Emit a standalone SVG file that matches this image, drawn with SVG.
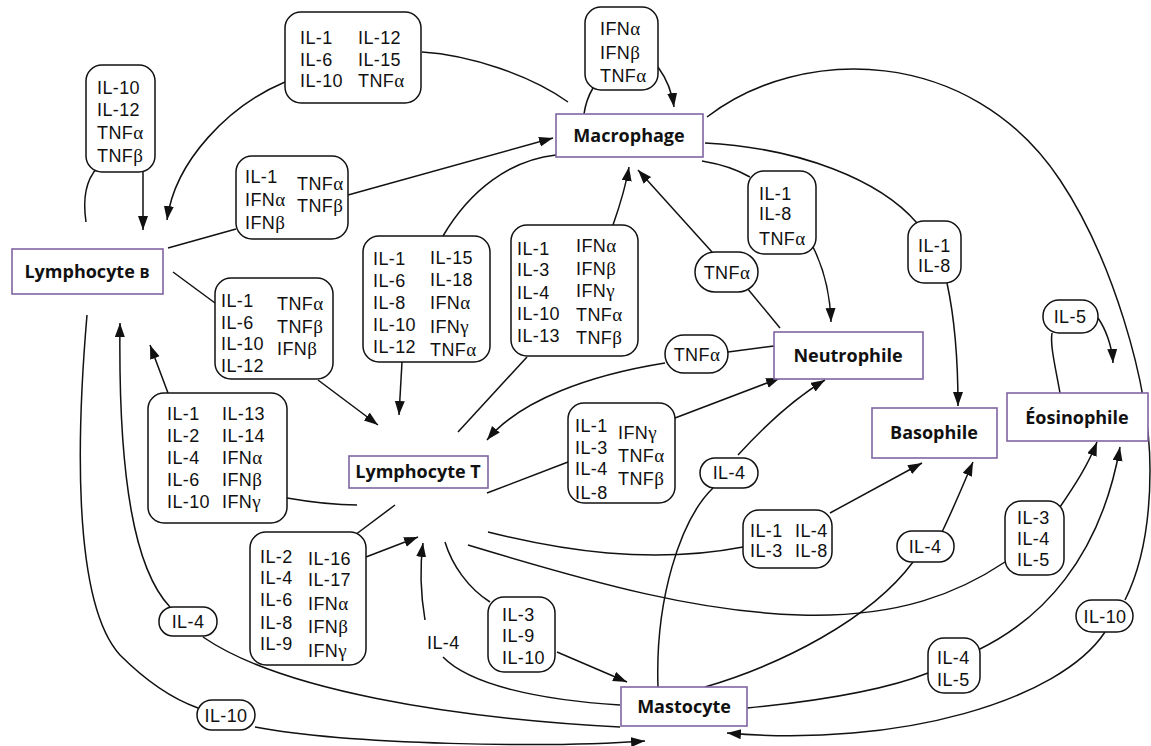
<svg xmlns="http://www.w3.org/2000/svg" width="1151" height="746" viewBox="0 0 1151 746">
<defs>
<marker id="ah" markerUnits="userSpaceOnUse" markerWidth="16" markerHeight="12" refX="14" refY="5" orient="auto">
<path d="M0,0 L14,5 L0,10 z" fill="#111"/>
</marker>
<style>
.n rect{fill:#fff;stroke:#8064a2;stroke-width:1.6}
.nt{font-family:"Open Sans","Liberation Sans",sans-serif;font-weight:bold;font-size:18px;text-anchor:middle;fill:#111}
.b rect{fill:#fff;stroke:#111;stroke-width:1.5}
.t{font-family:"Liberation Sans",Arial,sans-serif;font-size:18px;fill:#111;letter-spacing:0.4px}
.m{text-anchor:middle}
.g{font-family:"Liberation Serif","DejaVu Serif",serif;font-size:19px}
.c path{fill:none;stroke:#111;stroke-width:1.5}
.c path.a{marker-end:url(#ah)}
</style>
</defs>
<rect width="1151" height="746" fill="#fff"/>

<g class="c" id="connectors">
<path d="M86,222 C82,195 88,178 97,168"/>
<path class="a" d="M143,171 L143,230"/>
<path d="M568,102 C530,75 470,55 422,52"/>
<path class="a" d="M285,82 C230,105 175,160 167,220"/>
<path d="M168,248 L236,229"/>
<path class="a" d="M348,195 L553,138"/>
<path d="M173,272 L215,303"/>
<path class="a" d="M318,380 L378,425"/>
<path d="M357,505 C335,505 310,502 287,498"/>
<path class="a" d="M168,393 L150,345"/>
<path d="M87,315 C78,420 70,600 120,655 C145,680 170,698 198,708"/>
<path class="a" d="M255,727 C350,745 550,748 645,741"/>
<path d="M620,727 C450,718 280,690 203,637"/>
<path class="a" d="M170,607 C135,570 118,480 120,323"/>
<path d="M556,155 C510,160 470,190 443,236"/>
<path class="a" d="M402,362 L399,415"/>
<path d="M458,432 L527,357"/>
<path class="a" d="M613,225 C620,205 626,185 629,167"/>
<path d="M774,346 L728,352"/>
<path class="a" d="M665,363 C590,375 520,400 487,440"/>
<path d="M487,493 L568,462"/>
<path class="a" d="M675,418 L780,378"/>
<path d="M395,505 L355,535"/>
<path class="a" d="M366,557 L418,537"/>
<path d="M620,705 C540,700 470,685 443,657"/>
<path class="a" d="M425,620 C420,590 420,565 423,543"/>
<path d="M445,542 C452,565 468,588 490,602"/>
<path class="a" d="M557,652 L627,682"/>
<path d="M488,532 C560,550 650,565 743,547"/>
<path class="a" d="M830,513 L922,463"/>
<path d="M468,545 C600,585 700,612 800,615 C900,618 960,592 1005,562"/>
<path class="a" d="M1060,507 C1075,485 1088,465 1097,442"/>
<path d="M584,114 C586,100 590,93 593,88"/>
<path class="a" d="M658,67 C666,78 672,92 674,107"/>
<path d="M780,328 L747,288"/>
<path class="a" d="M712,252 L638,170"/>
<path d="M702,161 C720,164 738,170 750,177"/>
<path class="a" d="M813,247 C822,265 830,290 831,322"/>
<path d="M705,143 C800,148 880,180 917,223"/>
<path class="a" d="M947,283 C955,320 958,360 958,406"/>
<path d="M707,117 C800,45 970,45 1060,180 C1110,255 1150,380 1150,470 C1150,540 1135,580 1125,600"/>
<path class="a" d="M1105,632 C1060,700 900,748 727,733"/>
<path d="M658,687 C655,600 680,520 713,488"/>
<path class="a" d="M738,455 C770,420 800,395 825,380"/>
<path d="M705,687 C780,665 870,620 913,562"/>
<path class="a" d="M942,532 C955,505 965,480 973,462"/>
<path d="M747,708 C830,700 890,688 928,673"/>
<path class="a" d="M978,650 C1040,620 1100,560 1120,447"/>
<path d="M1060,393 C1055,365 1050,345 1052,333"/>
<path class="a" d="M1098,318 C1105,328 1112,345 1113,363"/>
</g>

<g class="n" id="lymphocyte-b"><rect x="12" y="249" width="151" height="45"/><text class="nt" x="87" y="278">Lymphocyte <tspan font-size="15">B</tspan></text></g>
<g class="n" id="macrophage"><rect x="556" y="114" width="147" height="43"/><text class="nt" x="629" y="142">Macrophage</text></g>
<g class="n" id="neutrophile"><rect x="774" y="332" width="149" height="47"/><text class="nt" x="848" y="362">Neutrophile</text></g>
<g class="n" id="basophile"><rect x="872" y="408" width="125" height="50"/><text class="nt" x="934" y="439">Basophile</text></g>
<g class="n" id="eosinophile"><rect x="1007" y="393" width="141" height="48"/><text class="nt" x="1077" y="424">Éosinophile</text></g>
<g class="n" id="lymphocyte-t"><rect x="349" y="456" width="139" height="32"/><text class="nt" x="418" y="478" font-size="15">Lymphocyte T</text></g>
<g class="n" id="mastocyte"><rect x="621" y="687" width="126" height="39"/><text class="nt" x="684" y="713">Mastocyte</text></g>

<g class="b" id="lb-self"><rect x="86" y="65" width="69" height="107" rx="16"/>
<text class="t" x="97" y="94">IL-10</text><text class="t" x="97" y="116">IL-12</text><text class="t" x="97" y="139">TNF<tspan class="g">α</tspan></text><text class="t" x="97" y="162">TNF<tspan class="g">β</tspan></text></g>

<g class="b" id="mac-to-lb"><rect x="285" y="12" width="136" height="91" rx="16"/>
<text class="t" x="300" y="44">IL-1</text><text class="t" x="300" y="66">IL-6</text><text class="t" x="300" y="87">IL-10</text>
<text class="t" x="358" y="44">IL-12</text><text class="t" x="358" y="66">IL-15</text><text class="t" x="358" y="87">TNF<tspan class="g">α</tspan></text></g>

<g class="b" id="mac-self"><rect x="585" y="7" width="73" height="83" rx="16"/>
<text class="t" x="600" y="35">IFN<tspan class="g">α</tspan></text><text class="t" x="600" y="59">IFN<tspan class="g">β</tspan></text><text class="t" x="600" y="82">TNF<tspan class="g">α</tspan></text></g>

<g class="b" id="lb-to-mac"><rect x="236" y="156" width="112" height="83" rx="16"/>
<text class="t" x="245" y="183">IL-1</text><text class="t" x="245" y="206">IFN<tspan class="g">α</tspan></text><text class="t" x="245" y="229">IFN<tspan class="g">β</tspan></text>
<text class="t" x="297" y="190">TNF<tspan class="g">α</tspan></text><text class="t" x="297" y="212">TNF<tspan class="g">β</tspan></text></g>

<g class="b" id="lb-to-lt"><rect x="215" y="278" width="118" height="101" rx="16"/>
<text class="t" x="221" y="307">IL-1</text><text class="t" x="221" y="329">IL-6</text><text class="t" x="221" y="350">IL-10</text><text class="t" x="221" y="372">IL-12</text>
<text class="t" x="277" y="310">TNF<tspan class="g">α</tspan></text><text class="t" x="277" y="333">TNF<tspan class="g">β</tspan></text><text class="t" x="277" y="355">IFN<tspan class="g">β</tspan></text></g>

<g class="b" id="lt-to-lb"><rect x="148" y="393" width="139" height="130" rx="16"/>
<text class="t" x="167" y="420">IL-1</text><text class="t" x="167" y="442">IL-2</text><text class="t" x="167" y="464">IL-4</text><text class="t" x="167" y="486">IL-6</text><text class="t" x="167" y="508">IL-10</text>
<text class="t" x="222" y="420">IL-13</text><text class="t" x="222" y="442">IL-14</text><text class="t" x="222" y="464">IFN<tspan class="g">α</tspan></text><text class="t" x="222" y="486">IFN<tspan class="g">β</tspan></text><text class="t" x="222" y="508">IFN<tspan class="g">γ</tspan></text></g>

<g class="b" id="mac-to-lt"><rect x="363" y="236" width="127" height="126" rx="16"/>
<text class="t" x="373" y="265">IL-1</text><text class="t" x="373" y="287">IL-6</text><text class="t" x="373" y="309">IL-8</text><text class="t" x="373" y="331">IL-10</text><text class="t" x="373" y="353">IL-12</text>
<text class="t" x="430" y="264">IL-15</text><text class="t" x="430" y="286">IL-18</text><text class="t" x="430" y="309">IFN<tspan class="g">α</tspan></text><text class="t" x="430" y="333">IFN<tspan class="g">γ</tspan></text><text class="t" x="430" y="356">TNF<tspan class="g">α</tspan></text></g>

<g class="b" id="lt-to-mac"><rect x="511" y="225" width="127" height="131" rx="16"/>
<text class="t" x="517" y="255">IL-1</text><text class="t" x="517" y="276">IL-3</text><text class="t" x="517" y="299">IL-4</text><text class="t" x="517" y="320">IL-10</text><text class="t" x="517" y="342">IL-13</text>
<text class="t" x="576" y="252">IFN<tspan class="g">α</tspan></text><text class="t" x="576" y="275">IFN<tspan class="g">β</tspan></text><text class="t" x="576" y="297">IFN<tspan class="g">γ</tspan></text><text class="t" x="576" y="321">TNF<tspan class="g">α</tspan></text><text class="t" x="576" y="344">TNF<tspan class="g">β</tspan></text></g>

<g class="b" id="mac-to-neu"><rect x="748" y="171" width="68" height="83" rx="16"/>
<text class="t" x="759" y="200">IL-1</text><text class="t" x="759" y="220">IL-8</text><text class="t" x="759" y="245">TNF<tspan class="g">α</tspan></text></g>

<g class="b" id="mac-to-baso"><rect x="908" y="221" width="53" height="62" rx="16"/>
<text class="t" x="918" y="252">IL-1</text><text class="t" x="918" y="272">IL-8</text></g>

<g class="b" id="lt-to-neu"><rect x="568" y="403" width="107" height="100" rx="16"/>
<text class="t" x="575" y="432">IL-1</text><text class="t" x="575" y="454">IL-3</text><text class="t" x="575" y="475">IL-4</text><text class="t" x="575" y="499">IL-8</text>
<text class="t" x="618" y="439">IFN<tspan class="g">γ</tspan></text><text class="t" x="618" y="462">TNF<tspan class="g">α</tspan></text><text class="t" x="618" y="485">TNF<tspan class="g">β</tspan></text></g>

<g class="b" id="lt-to-baso"><rect x="743" y="510" width="89" height="58" rx="16"/>
<text class="t" x="750" y="537">IL-1</text><text class="t" x="750" y="557">IL-3</text>
<text class="t" x="795" y="537">IL-4</text><text class="t" x="795" y="557">IL-8</text></g>

<g class="b" id="lt-to-eos"><rect x="1005" y="501" width="59" height="74" rx="16"/>
<text class="t" x="1017" y="524">IL-3</text><text class="t" x="1017" y="545">IL-4</text><text class="t" x="1017" y="566">IL-5</text></g>

<g class="b" id="mast-to-eos"><rect x="928" y="638" width="52" height="55" rx="16"/>
<text class="t" x="937" y="664">IL-4</text><text class="t" x="937" y="686">IL-5</text></g>

<g class="b" id="lt-self"><rect x="250" y="532" width="116" height="133" rx="16"/>
<text class="t" x="260" y="563">IL-2</text><text class="t" x="260" y="584">IL-4</text><text class="t" x="260" y="606">IL-6</text><text class="t" x="260" y="629">IL-8</text><text class="t" x="260" y="650">IL-9</text>
<text class="t" x="308" y="565">IL-16</text><text class="t" x="308" y="586">IL-17</text><text class="t" x="308" y="610">IFN<tspan class="g">α</tspan></text><text class="t" x="308" y="633">IFN<tspan class="g">β</tspan></text><text class="t" x="308" y="657">IFN<tspan class="g">γ</tspan></text></g>

<g class="b" id="lt-to-mast"><rect x="488" y="597" width="67" height="75" rx="16"/>
<text class="t" x="502" y="621">IL-3</text><text class="t" x="502" y="642">IL-9</text><text class="t" x="502" y="664">IL-10</text></g>

<g class="b" id="tnfa-upper"><rect x="695" y="252" width="63" height="40" rx="20"/><text class="t m" x="727" y="279">TNF<tspan class="g">α</tspan></text></g>
<g class="b" id="tnfa-lower"><rect x="665" y="335" width="63" height="38" rx="19"/><text class="t m" x="697" y="361">TNF<tspan class="g">α</tspan></text></g>
<g class="b" id="il4-neu"><rect x="700" y="458" width="58" height="30" rx="15"/><text class="t m" x="729" y="479">IL-4</text></g>
<g class="b" id="il4-baso"><rect x="897" y="531" width="57" height="31" rx="15"/><text class="t m" x="925" y="553">IL-4</text></g>
<g class="b" id="il10-right"><rect x="1076" y="600" width="57" height="32" rx="16"/><text class="t m" x="1105" y="623">IL-10</text></g>
<g class="b" id="il5"><rect x="1043" y="300" width="55" height="33" rx="16"/><text class="t m" x="1070" y="323">IL-5</text></g>
<g class="b" id="il4-left"><rect x="159" y="607" width="58" height="29" rx="14"/><text class="t m" x="188" y="628">IL-4</text></g>
<g class="b" id="il10-left"><rect x="197" y="700" width="58" height="30" rx="15"/><text class="t m" x="226" y="722">IL-10</text></g>
<g id="il4-plain"><text class="t" x="427" y="649">IL-4</text></g>
</svg>
